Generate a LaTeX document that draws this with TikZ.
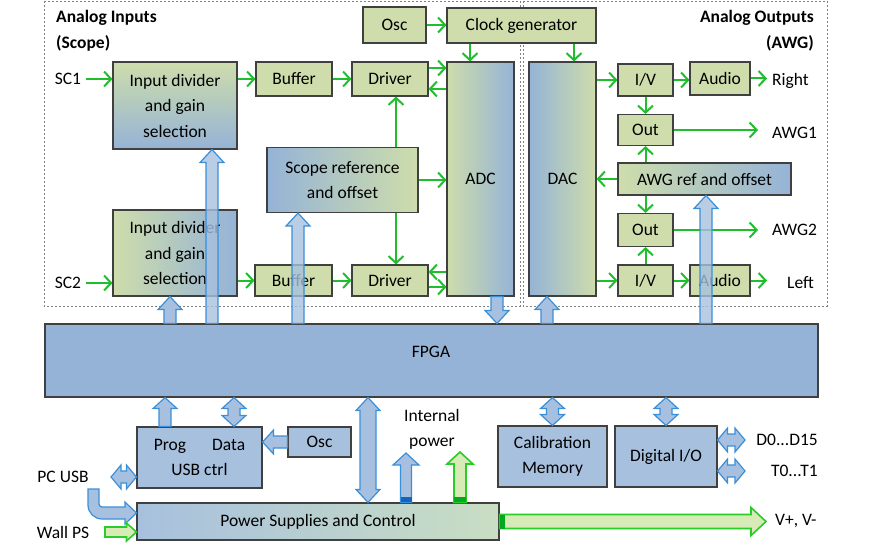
\documentclass[tikz,border=0pt]{standalone}
\usepackage{fontspec}
\setmainfont{Carlito}
\usetikzlibrary{arrows.meta, calc}

\definecolor{boxgreen}{RGB}{206,221,171}
\definecolor{boxblue}{RGB}{149,179,215}
\definecolor{lightblue}{RGB}{167,192,222}
\definecolor{boxline}{RGB}{64,64,64}
\definecolor{sigline}{RGB}{30,190,45}
\definecolor{busfill}{RGB}{167,192,223}
\definecolor{busline}{RGB}{58,143,217}
\definecolor{busdark}{RGB}{20,100,190}
\definecolor{pwrfill}{RGB}{216,235,183}
\definecolor{pwrline}{RGB}{40,205,40}
\definecolor{pwrdark}{RGB}{0,170,30}

\tikzset{
  blk/.style={draw=boxline, line width=1.1pt, inner sep=0pt, align=center,
    font=\fontsize{17.5}{25.5}\selectfont},
  grn/.style={blk, fill=boxgreen},
  blu/.style={blk, fill=lightblue},
  lbl/.style={inner sep=0pt, font=\fontsize{17.5}{25.5}\selectfont},
  sig/.style={draw=sigline, line width=2pt, -{Straight Barb[length=7pt,width=15pt]}},
  frame/.style={draw=gray, line width=0.8pt, dash pattern=on 2pt off 2pt},
  shaft/.code={\def\shaftw{#1}},
  head/.code={\def\headw{#1}},
  headlen/.code={\def\headl{#1}},
  shaft=6pt, head=12pt, headlen=13pt,
  bus/.style={draw=busline, fill=busfill, line width=1.2pt},
  power/.style={draw=pwrline, fill=pwrfill, line width=1.6pt},
  fat/.style={to path={let \p1=(\tikztostart), \p2=(\tikztotarget),
      \n1={atan2((\y2)-(\y1),(\x2)-(\x1))} in
    ($(\p1)+(\n1+90:\shaftw)$)
    -- ($(\p2)+(\n1+180:\headl)+(\n1+90:\shaftw)$)
    -- ($(\p2)+(\n1+180:\headl)+(\n1+90:\headw)$)
    -- (\p2)
    -- ($(\p2)+(\n1+180:\headl)+(\n1-90:\headw)$)
    -- ($(\p2)+(\n1+180:\headl)+(\n1-90:\shaftw)$)
    -- ($(\p1)+(\n1-90:\shaftw)$) -- cycle}},
  fatboth/.style={to path={let \p1=(\tikztostart), \p2=(\tikztotarget),
      \n1={atan2((\y2)-(\y1),(\x2)-(\x1))} in
    (\p1)
    -- ($(\p1)+(\n1:\headl)+(\n1+90:\headw)$)
    -- ($(\p1)+(\n1:\headl)+(\n1+90:\shaftw)$)
    -- ($(\p2)+(\n1+180:\headl)+(\n1+90:\shaftw)$)
    -- ($(\p2)+(\n1+180:\headl)+(\n1+90:\headw)$)
    -- (\p2)
    -- ($(\p2)+(\n1+180:\headl)+(\n1-90:\headw)$)
    -- ($(\p2)+(\n1+180:\headl)+(\n1-90:\shaftw)$)
    -- ($(\p1)+(\n1:\headl)+(\n1-90:\shaftw)$)
    -- ($(\p1)+(\n1:\headl)+(\n1-90:\headw)$) -- cycle}},
}

\begin{document}
\begin{tikzpicture}[x=1pt, y=-1pt]
\useasboundingbox (0,0) rectangle (870,548);

\draw[frame] (44,1) rectangle (520,306);
\draw[frame] (523,1) rectangle (827,306);

\node[lbl, anchor=west, align=left, font=\fontsize{17.5}{26}\selectfont\bfseries] (ainlbl) at (56,31) {Analog Inputs\\(Scope)};
\node[lbl, anchor=east, align=right, font=\fontsize{17.5}{26}\selectfont\bfseries] (aoutlbl) at (814,31) {Analog Outputs\\(AWG)};

\node[grn, minimum width=63, minimum height=36] (osca) at (394.5,25) {Osc};
\node[grn, minimum width=149, minimum height=35] (clk) at (521.5,25.5) {Clock generator};
\node[blk, top color=boxgreen, bottom color=boxblue, minimum width=124, minimum height=87] (idiv1) at (175,105.5) {Input divider\\and gain\\selection};
\node[grn, minimum width=76, minimum height=34] (buf1) at (294,79) {Buffer};
\node[grn, minimum width=76, minimum height=34] (drv1) at (390,79) {Driver};
\node[blk, left color=boxblue, right color=boxgreen, minimum width=151, minimum height=65] (sref) at (342.5,180) {Scope reference\\and offset};
\node[blk, left color=boxgreen, right color=boxblue, minimum width=124, minimum height=86] (idiv2) at (175,253) {Input divider\\and gain\\selection};
\node[grn, minimum width=77, minimum height=31] (buf2) at (293.5,280.5) {Buffer};
\node[grn, minimum width=76, minimum height=31] (drv2) at (390,280.5) {Driver};
\node[blk, left color=boxgreen, right color=boxblue, minimum width=67, minimum height=234] (adc) at (480.5,179) {ADC};
\node[blk, left color=boxblue, right color=boxgreen, minimum width=67, minimum height=234] (dac) at (562.5,179) {DAC};

\node[grn, minimum width=55, minimum height=32] (iv1) at (645.5,80) {I/V};
\node[grn, minimum width=60, minimum height=33] (aud1) at (720,78.5) {Audio};
\node[grn, minimum width=55, minimum height=31] (out1) at (645.5,130) {Out};
\node[blk, left color=boxgreen, right color=boxblue, minimum width=173, minimum height=32] (awgref) at (704.5,179) {AWG ref and offset};
\node[grn, minimum width=55, minimum height=33] (out2) at (645.5,230) {Out};
\node[grn, minimum width=55, minimum height=31] (iv2) at (645.5,280.5) {I/V};
\node[grn, minimum width=60, minimum height=31] (aud2) at (720,280.5) {Audio};

\node[lbl] (sc1) at (68,79) {SC1};
\node[lbl] (sc2) at (68,283) {SC2};
\node[lbl, anchor=west] (right) at (772,81) {Right};
\node[lbl, anchor=west] (awg1) at (772,133) {AWG1};
\node[lbl, anchor=west] (awg2) at (772,230) {AWG2};
\node[lbl, anchor=west] (left) at (787,283) {Left};

\node[blk, fill=boxblue, minimum width=773, minimum height=73] (fpga) at (431.5,360.5) {};
\node[lbl] (fpgalbl) at (431,352) {FPGA};

\node[blu, minimum width=125, minimum height=61] (usb) at (199.5,457.5) {Prog\hspace{26pt}Data\\USB ctrl};
\node[blu, minimum width=63, minimum height=30] (oscb) at (319.5,442) {Osc};
\node[blu, minimum width=109, minimum height=61] (cal) at (552.5,456.5) {Calibration\\Memory};
\node[blu, minimum width=102, minimum height=61] (dio) at (666,456.5) {Digital I/O};
\node[blk, left color=lightblue, middle color=lightblue, right color=pwrfill!70!lightblue, minimum width=362, minimum height=37] (pwr) at (318,521.5) {Power Supplies and Control};

\node[lbl, align=center] (intlbl) at (432,429.5) {Internal\\power};
\node[lbl] (pclbl) at (63,477) {PC USB};
\node[lbl] (walllbl) at (63,532) {Wall PS};
\node[lbl, anchor=east] (dlbl) at (818,440) {D0...D15};
\node[lbl, anchor=east] (tlbl) at (818,471) {T0...T1};
\node[lbl, anchor=west] (vlbl) at (775,521) {V+, V-};

\coordinate (pcport) at (111,477);
\coordinate (wallport) at (105,532);
\coordinate (dport) at (745,440);
\coordinate (tport) at (745,471);
\coordinate (vport) at (766,521.5);
\coordinate (intb) at (406,453);
\coordinate (intg) at (460,452);

\draw[every edge/.style={sig}]
    (sc1) edge[shorten <=5pt] (sc1 -| idiv1.west)
    (idiv1.east |- buf1) edge (buf1.west)
    (buf1) edge (drv1)
    ([yshift=11pt]drv1.east) edge ([yshift=11pt]drv1.east -| adc.west)
    ([yshift=-10pt]drv1.east -| adc.west) edge ([yshift=-10pt]drv1.east)
    ([xshift=6pt]drv1.south |- sref.north) edge ([xshift=6pt]drv1.south)
    ([xshift=6pt]drv2.north |- sref.south) edge ([xshift=6pt]drv2.north)
    (sref.east) edge (sref.east -| adc.west)
    (sc2) edge[shorten <=5pt] (sc2 -| idiv2.west)
    (buf2.west -| idiv2.east) edge (buf2.west)
    (buf2) edge (drv2)
    ([yshift=8.5pt]drv2.east -| adc.west) edge ([yshift=8.5pt]drv2.east)
    ([yshift=-6.5pt]drv2.east) edge ([yshift=-6.5pt]drv2.east -| adc.west)
    (osca.east) edge (osca.east -| clk.west)
    ([xshift=-10.5pt]adc.north |- clk.south) edge ([xshift=-10.5pt]adc.north)
    ([xshift=11.5pt]dac.north |- clk.south) edge ([xshift=11.5pt]dac.north)
    (dac.east |- iv1) edge (iv1.west)
    (iv1.east) edge (iv1.east -| aud1.west)
    (aud1.east) edge[shorten >=5pt] (aud1.east -| right.west)
    (iv1) edge (out1)
    (out1.east) edge[shorten >=14pt] (out1.east -| awg1.west)
    (out1.south |- awgref.north) edge (out1.south)
    (out2.north |- awgref.south) edge (out2.north)
    (awgref.west) edge (awgref.west -| dac.east)
    (out2.east) edge[shorten >=14pt] (out2.east -| awg2.west)
    (iv2) edge (out2)
    (dac.east |- iv2) edge (iv2.west)
    (iv2.east) edge (iv2.east -| aud2.west)
    (aud2.east) edge[shorten >=20pt] (aud2.east -| left.west)
    ;

\draw[bus, fill opacity=0.8] ([xshift=37pt]idiv1.south |- fpga.north) to[fat] ([xshift=37pt]idiv1.south);
\draw[bus] ([xshift=-5pt]idiv2.south |- fpga.north) to[fat] ([xshift=-5pt]idiv2.south);
\draw[bus, fill opacity=0.8] ([xshift=-44.5pt]sref.south |- fpga.north) to[fat] ([xshift=-44.5pt]sref.south);
\draw[bus] ([xshift=16.5pt]adc.south) to[fat] ([xshift=16.5pt]adc.south |- fpga.north);
\draw[bus] ([xshift=-15.5pt]dac.south |- fpga.north) to[fat] ([xshift=-15.5pt]dac.south);
\draw[bus, fill opacity=0.8] ([xshift=1.5pt]awgref.south |- fpga.north) to[fat] ([xshift=1.5pt]awgref.south);

\draw[bus, headlen=11pt] ([xshift=-34.5pt]usb.north) to[fat] ([xshift=-34.5pt]usb.north |- fpga.south);
\draw[bus, headlen=11pt] ([xshift=34.5pt]usb.north) to[fatboth] ([xshift=34.5pt]usb.north |- fpga.south);
\draw[bus, headlen=11pt] (oscb.west) to[fat] (oscb.west -| usb.east);
\draw[bus, shaft=8pt] ([xshift=50pt]pwr.north) to[fatboth] ([xshift=50pt]pwr.north |- fpga.south);
\draw[bus, headlen=11pt] (cal.north) to[fatboth] (cal.north |- fpga.south);
\draw[bus, headlen=11pt] (dio.north) to[fatboth] (dio.north |- fpga.south);
\draw[bus, headlen=10pt] (pcport) to[fatboth] (pcport -| usb.west);
\draw[bus, headlen=10pt] (dio.east |- dport) to[fatboth] (dport);
\draw[bus, headlen=10pt] (dio.east |- tport) to[fatboth] (tport);

\draw[bus] (88,489) -- (88,505) arc[start angle=180, end angle=270, radius=14pt]
    -- (125,519) -- (125,524) -- ([yshift=8.5pt]pwr.west) -- (125,502) -- (125,507)
    -- (102,507) arc[start angle=270, end angle=180, radius=3pt] -- (99,489) -- cycle;

\draw[power, shaft=5pt, head=9pt, headlen=10pt] (wallport) to[fat] (wallport -| pwr.west);
\draw[power, shaft=7pt, head=14pt, headlen=15pt] (pwr.east) to[fat] (vport);
\fill[pwrdark] ([yshift=7pt]pwr.east) rectangle ([yshift=-7pt, xshift=5pt]pwr.east);
\draw[bus, shaft=5.5pt, head=13pt, headlen=12pt] (intb |- pwr.north) to[fat] (intb);
\fill[busdark] ([xshift=-5.5pt]intb |- pwr.north) rectangle ([xshift=5.5pt, yshift=5pt]intb |- pwr.north);
\draw[power, shaft=6pt, head=13pt, headlen=12pt] (intg |- pwr.north) to[fat] (intg);
\fill[pwrdark] ([xshift=-6pt]intg |- pwr.north) rectangle ([xshift=6pt, yshift=5pt]intg |- pwr.north);
\end{tikzpicture}
\end{document}
